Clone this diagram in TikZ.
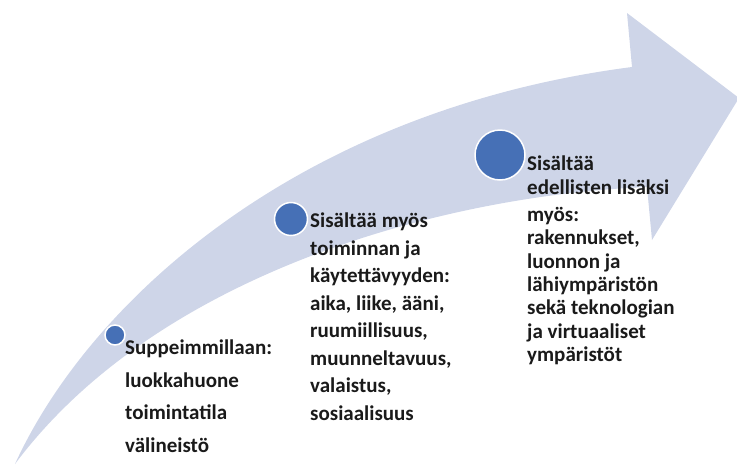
\documentclass[tikz,border=0pt]{standalone}
\usepackage{fontspec}
\setmainfont{Carlito}
\definecolor{arrowfill}{HTML}{CED5E8}
\definecolor{dotfill}{HTML}{4670B6}
\definecolor{ink}{HTML}{1A1A1A}
\begin{document}
\begin{tikzpicture}[x=1pt,y=-1pt,
  dot/.style={circle, fill=dotfill, draw=white, line width=1.5pt, inner sep=0pt},
  label/.style={anchor=north west, align=left, inner sep=0pt, text=ink}]
\useasboundingbox (0,0) rectangle (737,464);

% sweeping arrow
\fill[arrowfill] (15,464) .. controls (90,300) and (300,110) .. (632,67)
  -- (627,13) -- (739,98) -- (652,240) -- (647,187)
  .. controls (450,195) and (160,270) .. (15,464) -- cycle;

% milestones
\node[dot, minimum size=20pt] (c1) at (115,335) {};
\node[dot, minimum size=33pt] (c2) at (291,219) {};
\node[dot, minimum size=50pt] (c3) at (500,155) {};

% texts
\node[label, font=\fontsize{21}{32.5}\bfseries] (t1) at (125,340)
  {Suppeimmillaan:\\luokkahuone\\toimintatila\\välineistö};
\node[label, font=\fontsize{21}{27.5}\bfseries] (t2) at (310,213)
  {Sisältää myös\\toiminnan ja\\käytettävyyden:\\aika, liike, ääni,\\ruumiillisuus,\\muunneltavuus,\\valaistus,\\sosiaalisuus};
\node[label, font=\fontsize{21}{23.3}\bfseries] (t3) at (527,156)
  {Sisältää\\edellisten lisäksi\\[4pt]myös:\\rakennukset,\\luonnon ja\\lähiympäristön\\sekä teknologian\\ja virtuaaliset\\ympäristöt};
\end{tikzpicture}
\end{document}
